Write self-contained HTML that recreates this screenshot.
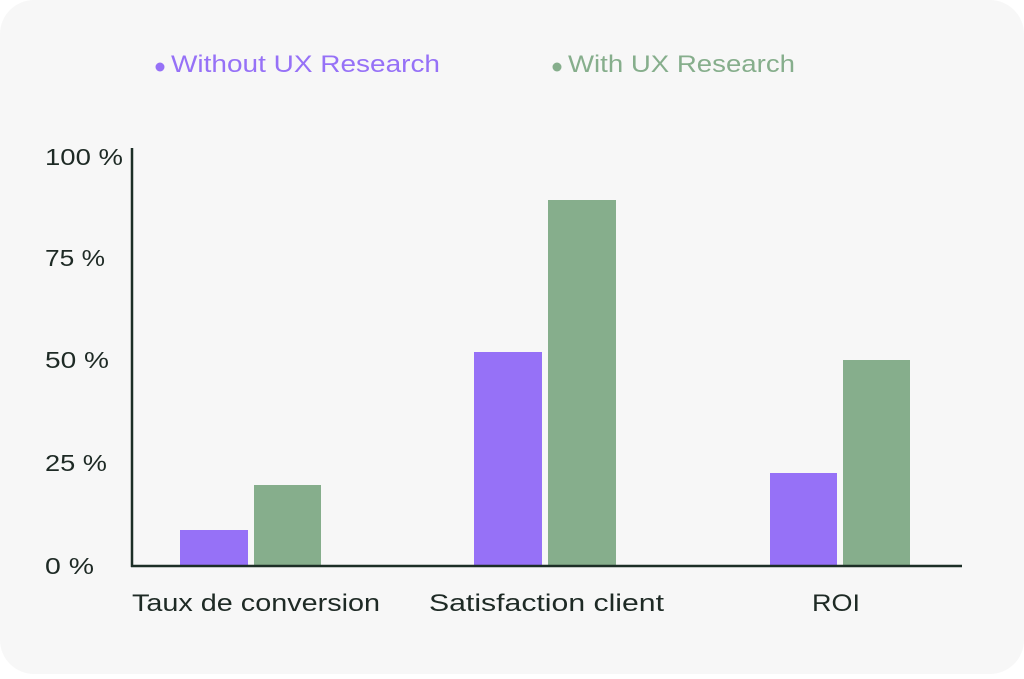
<!DOCTYPE html>
<html><head><style>
body{margin:0;background:#fff;width:1024px;height:674px;overflow:hidden}
</style></head><body>
<svg width="1024" height="674" xmlns="http://www.w3.org/2000/svg" font-family="Liberation Sans, sans-serif">
<rect x="0" y="0" width="1024" height="674" rx="34" fill="#f7f7f7"/>
<circle cx="160" cy="67" r="4.5" fill="#9671f7"/>
<text x="171" y="72" font-size="24" fill="#9671f7" textLength="269" lengthAdjust="spacingAndGlyphs">Without UX Research</text>
<circle cx="557" cy="67" r="4.5" fill="#86ae8c"/>
<text x="568" y="72" font-size="24" fill="#86ae8c" textLength="227" lengthAdjust="spacingAndGlyphs">With UX Research</text>
<g font-size="23" fill="#1e2a25">
<text x="45" y="165" textLength="78" lengthAdjust="spacingAndGlyphs">100 %</text>
<text x="45" y="266" textLength="60" lengthAdjust="spacingAndGlyphs">75 %</text>
<text x="45" y="368" textLength="64" lengthAdjust="spacingAndGlyphs">50 %</text>
<text x="45" y="471" textLength="62" lengthAdjust="spacingAndGlyphs">25 %</text>
<text x="45" y="574" textLength="49" lengthAdjust="spacingAndGlyphs">0 %</text>
</g>
<g fill="#9671f7">
<rect x="180" y="530" width="68" height="36"/>
<rect x="474" y="352" width="68" height="214"/>
<rect x="770" y="473" width="67" height="93"/>
</g>
<g fill="#86ae8c">
<rect x="254" y="485" width="67" height="81"/>
<rect x="548" y="200" width="68" height="366"/>
<rect x="843" y="360" width="67" height="206"/>
</g>
<line x1="132" y1="148" x2="132" y2="567" stroke="#1c2e26" stroke-width="2.5"/>
<line x1="131" y1="566" x2="962" y2="566" stroke="#1c2e26" stroke-width="2.5"/>
<g font-size="24" fill="#1e2a25">
<text x="132" y="611" textLength="248" lengthAdjust="spacingAndGlyphs">Taux de conversion</text>
<text x="429" y="611" textLength="235" lengthAdjust="spacingAndGlyphs">Satisfaction client</text>
<text x="812" y="611" textLength="48" lengthAdjust="spacingAndGlyphs">ROI</text>
</g>
</svg>
</body></html>
